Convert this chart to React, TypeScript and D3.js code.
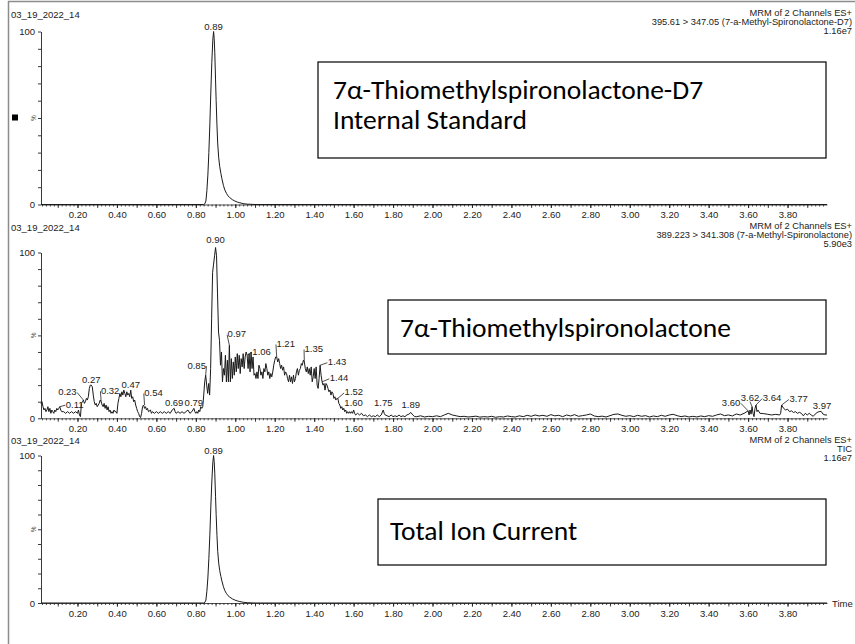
import React, { useEffect, useRef } from "react";
import * as d3 from "d3";

// ---- data (time in min, intensity in %) ----
const sampleName = "03_19_2022_14";

const headerLines = [
  ["MRM of 2 Channels ES+", "395.61 > 347.05 (7-a-Methyl-Spironolactone-D7)", "1.16e7"],
  ["MRM of 2 Channels ES+", "389.223 > 341.308 (7-a-Methyl-Spironolactone)", "5.90e3"],
  ["MRM of 2 Channels ES+", "TIC", "1.16e7"],
];

const boxTexts = [
  ["7α-Thiomethylspironolactone-D7", "Internal Standard"],
  ["7α-Thiomethylspironolactone"],
  ["Total Ion Current"],
];

const xTickValues = [0.2, 0.4, 0.6, 0.8, 1.0, 1.2, 1.4, 1.6, 1.8, 2.0, 2.2, 2.4, 2.6, 2.8, 3.0, 3.2, 3.4, 3.6, 3.8];
const yTickValues = [0, 10, 20, 30, 40, 50, 60, 70, 80, 90, 100];

// internal standard channel (D7)
const internalStdTrace: [number, number][] = [
  [0.015, 0], [0.84, 0], [0.846, 0.5], [0.851, 2], [0.856, 8], [0.861, 17], [0.866, 30], [0.871, 46],
  [0.876, 65], [0.881, 82], [0.886, 95], [0.89, 100], [0.893, 96], [0.896, 88], [0.9, 72], [0.903, 60],
  [0.907, 46], [0.911, 35], [0.916, 27], [0.921, 22], [0.927, 18], [0.932, 15], [0.94, 11], [0.947, 8.4],
  [0.955, 6.5], [0.963, 5], [0.972, 4], [0.985, 2.8], [0.998, 2], [1.01, 1.4], [1.023, 1], [1.04, 0.5],
  [1.06, 0.2], [1.1, 0], [4.0, 0],
];

// total ion current
const ticTrace: [number, number][] = [
  [0.015, 0], [0.84, 0], [0.846, 0.5], [0.851, 2], [0.856, 8], [0.861, 17], [0.866, 30], [0.871, 46],
  [0.876, 65], [0.881, 82], [0.886, 95], [0.89, 100], [0.893, 96], [0.896, 88], [0.9, 72], [0.903, 60],
  [0.907, 46], [0.911, 35], [0.916, 27], [0.921, 22], [0.927, 18], [0.932, 15], [0.94, 11], [0.947, 8.4],
  [0.955, 6.5], [0.963, 5], [0.972, 4], [0.985, 2.8], [0.998, 2], [1.01, 1.4], [1.023, 1], [1.04, 0.5],
  [1.06, 0.2], [1.1, 0], [4.0, 0],
];

// analyte channel, noisy
const analyteEarly: [number, number][] = [
  [0.015, 9], [0.02, 10], [0.025, 7], [0.03, 5], [0.035, 6], [0.04, 4], [0.045, 5], [0.05, 7], [0.055, 4],
  [0.06, 6], [0.065, 3], [0.07, 5], [0.075, 4], [0.08, 3], [0.085, 5], [0.09, 4], [0.095, 6], [0.1, 5],
  [0.105, 6], [0.11, 7], [0.115, 5], [0.12, 4], [0.13, 4], [0.14, 3], [0.15, 4], [0.16, 3], [0.17, 4],
  [0.18, 3], [0.19, 4], [0.2, 3], [0.205, 5], [0.21, 2], [0.215, 1], [0.22, 9], [0.225, 10], [0.23, 11],
  [0.235, 9], [0.24, 10], [0.245, 12], [0.25, 11], [0.255, 13], [0.26, 18], [0.265, 20], [0.27, 20],
  [0.275, 19], [0.28, 14], [0.285, 10], [0.29, 8], [0.295, 9], [0.3, 7], [0.305, 8], [0.31, 9], [0.315, 11],
  [0.32, 10], [0.325, 8], [0.33, 7], [0.335, 9], [0.34, 6], [0.345, 8], [0.35, 5], [0.355, 7], [0.36, 4],
  [0.365, 5], [0.37, 3], [0.375, 4], [0.38, 3], [0.385, 5], [0.39, 4], [0.395, 4], [0.4, 3], [0.405, 9],
  [0.41, 12], [0.415, 15], [0.42, 13], [0.425, 16], [0.43, 14], [0.435, 17], [0.44, 15], [0.445, 13],
  [0.45, 16], [0.455, 14], [0.46, 15], [0.465, 13], [0.47, 17], [0.475, 12], [0.48, 13], [0.485, 10],
  [0.49, 11], [0.495, 8], [0.5, 6], [0.505, 4], [0.51, 3], [0.515, 1], [0.52, 0.5], [0.525, 3], [0.53, 7],
  [0.535, 8], [0.54, 6], [0.545, 7], [0.55, 5], [0.555, 6], [0.56, 4], [0.57, 5], [0.575, 3], [0.58, 4],
  [0.59, 3], [0.6, 4], [0.61, 3], [0.62, 4], [0.63, 3], [0.64, 4], [0.65, 3], [0.66, 4], [0.67, 3],
  [0.68, 5], [0.69, 6], [0.695, 4], [0.7, 3], [0.71, 4], [0.72, 3], [0.73, 4], [0.74, 3], [0.75, 4],
  [0.76, 5], [0.77, 3], [0.78, 4], [0.79, 6], [0.795, 4], [0.8, 3], [0.805, 4], [0.81, 3], [0.815, 5],
  [0.82, 4], [0.825, 7], [0.83, 6], [0.835, 7],
];

const analytePeak: [number, number][] = [
  [0.84, 14], [0.845, 22], [0.85, 26], [0.855, 20], [0.86, 15], [0.865, 21], [0.87, 14], [0.875, 30],
  [0.88, 60], [0.885, 88], [0.89, 93], [0.895, 98], [0.9, 103], [0.905, 98], [0.91, 75], [0.915, 52],
  [0.92, 47], [0.925, 32], [0.93, 40], [0.935, 22], [0.94, 30], [0.945, 26], [0.95, 38], [0.955, 22],
  [0.96, 35], [0.965, 22], [0.97, 44], [0.975, 22], [0.98, 36], [0.985, 24], [0.99, 34], [0.995, 26],
  [1.0, 37], [1.005, 28], [1.01, 39], [1.015, 30], [1.02, 38], [1.025, 27], [1.03, 36], [1.035, 31],
  [1.04, 39], [1.045, 30], [1.05, 37], [1.055, 40], [1.06, 38], [1.065, 30], [1.07, 39], [1.075, 28],
  [1.08, 40], [1.085, 30], [1.09, 37], [1.095, 26], [1.1, 27], [1.105, 24], [1.11, 28], [1.115, 24],
  [1.12, 32], [1.125, 30], [1.13, 26], [1.135, 28], [1.14, 24], [1.145, 30], [1.15, 28], [1.155, 33],
  [1.16, 30], [1.165, 26], [1.17, 28], [1.175, 24], [1.18, 27], [1.185, 25], [1.19, 28], [1.195, 32],
  [1.2, 35], [1.205, 37], [1.21, 37], [1.215, 34], [1.22, 36], [1.225, 33], [1.23, 30], [1.235, 32],
  [1.24, 29], [1.245, 31], [1.25, 26], [1.255, 28], [1.26, 27], [1.265, 24], [1.27, 22], [1.275, 26],
  [1.28, 22], [1.285, 25], [1.29, 21], [1.295, 26], [1.3, 22], [1.305, 24], [1.31, 28], [1.315, 30],
  [1.32, 26], [1.325, 29], [1.33, 30], [1.335, 33], [1.34, 32], [1.345, 35], [1.35, 34], [1.355, 30],
  [1.36, 28], [1.365, 31], [1.37, 27], [1.375, 30], [1.38, 26], [1.385, 31], [1.39, 22], [1.395, 25],
  [1.4, 30], [1.405, 24], [1.41, 31], [1.415, 20], [1.42, 18], [1.425, 24], [1.43, 32], [1.435, 26],
  [1.44, 22], [1.445, 20], [1.45, 21], [1.455, 17], [1.46, 21], [1.465, 20], [1.47, 18], [1.475, 16],
  [1.48, 17], [1.485, 14], [1.49, 16], [1.495, 15], [1.5, 12], [1.505, 13], [1.51, 11], [1.515, 12],
  [1.52, 12], [1.525, 9], [1.53, 8], [1.535, 6], [1.54, 7], [1.545, 5], [1.55, 6], [1.555, 4], [1.56, 5],
  [1.565, 3], [1.57, 4], [1.575, 3], [1.58, 4], [1.585, 3], [1.59, 4], [1.595, 3], [1.6, 5], [1.605, 3],
  [1.61, 2], [1.62, 3], [1.63, 2], [1.64, 3], [1.65, 1.5], [1.66, 2], [1.67, 1], [1.68, 2], [1.69, 1],
  [1.7, 1.5], [1.71, 1], [1.72, 2], [1.73, 1], [1.74, 2], [1.75, 5], [1.755, 3], [1.76, 2], [1.77, 1.5],
  [1.78, 1], [1.79, 2], [1.8, 1], [1.81, 1.5], [1.82, 1], [1.83, 2], [1.84, 1], [1.85, 1.5], [1.86, 1],
  [1.87, 2], [1.88, 2.5], [1.89, 3.5], [1.9, 2], [1.91, 1],
];

const analyteLate: [number, number][] = [
  [1.92, 1], [1.94, 1.5], [1.96, 0.8], [1.98, 1.2], [2.0, 1], [2.02, 1.5], [2.04, 1], [2.06, 2], [2.08, 3],
  [2.1, 2], [2.12, 1.5], [2.14, 1], [2.16, 1.2], [2.18, 0.8], [2.2, 1], [2.22, 1.3], [2.24, 0.7], [2.26, 1],
  [2.28, 0.8], [2.3, 1.2], [2.32, 0.6], [2.34, 1], [2.36, 0.8], [2.38, 1.4], [2.4, 1], [2.42, 0.8],
  [2.44, 1.5], [2.46, 1], [2.48, 1.8], [2.5, 1.2], [2.52, 2], [2.54, 1.4], [2.56, 1.8], [2.58, 1.2],
  [2.6, 2.2], [2.62, 1.5], [2.64, 1.8], [2.66, 1], [2.68, 2], [2.7, 1.4], [2.72, 2.2], [2.74, 1.2],
  [2.76, 1.6], [2.78, 2], [2.8, 2.6], [2.82, 1.4], [2.84, 1], [2.86, 1.3], [2.88, 0.8], [2.9, 1.6],
  [2.92, 2.4], [2.94, 2.6], [2.96, 1.8], [2.98, 1.2], [3.0, 1.6], [3.02, 1], [3.04, 1.8], [3.06, 1.2],
  [3.08, 1.6], [3.1, 0.8], [3.12, 1.4], [3.14, 1], [3.16, 1.8], [3.18, 1.2], [3.2, 2], [3.22, 2.4],
  [3.24, 1.6], [3.26, 1], [3.28, 1.4], [3.3, 0.8], [3.32, 1.2], [3.34, 0.8], [3.36, 1.4], [3.38, 1],
  [3.4, 1.6], [3.42, 1.2], [3.44, 2], [3.46, 2.6], [3.48, 1.6], [3.5, 2], [3.52, 1.4], [3.54, 2.6],
  [3.56, 2], [3.58, 3], [3.6, 4.5], [3.605, 2], [3.61, 5], [3.615, 2.5], [3.62, 7], [3.625, 3], [3.63, 1],
  [3.635, 6], [3.64, 8], [3.645, 4], [3.65, 5], [3.66, 3], [3.68, 2.8], [3.7, 2.4], [3.72, 2], [3.74, 2.4],
  [3.76, 2], [3.765, 3], [3.77, 8], [3.78, 6], [3.79, 5], [3.8, 5.5], [3.81, 4], [3.82, 4.5], [3.83, 3.5],
  [3.84, 4], [3.85, 3], [3.86, 3.6], [3.87, 3], [3.88, 1.5], [3.89, 3], [3.9, 2], [3.91, 3], [3.92, 2],
  [3.93, 1.2], [3.94, 2.5], [3.95, 3.5], [3.96, 4], [3.97, 4.2], [3.98, 2.5], [3.99, 2], [4.0, 2],
];

// peak labels: retention time + labelled height
const internalStdPeaks = [{ t: 0.89, v: 100 }];
const ticPeaks = [{ t: 0.89, v: 100 }];
const analytePeaks = [
  { t: 0.11, v: 7 }, { t: 0.23, v: 11 }, { t: 0.27, v: 20 }, { t: 0.32, v: 10 }, { t: 0.47, v: 17 },
  { t: 0.54, v: 8 }, { t: 0.69, v: 6 }, { t: 0.79, v: 6 }, { t: 0.85, v: 26 }, { t: 0.9, v: 103 },
  { t: 0.97, v: 44 }, { t: 1.06, v: 38 }, { t: 1.21, v: 37 }, { t: 1.35, v: 34 }, { t: 1.43, v: 32 },
  { t: 1.44, v: 22 }, { t: 1.52, v: 12 }, { t: 1.6, v: 5 }, { t: 1.75, v: 5 }, { t: 1.89, v: 3.5 },
  { t: 3.6, v: 4.5 }, { t: 3.62, v: 7 }, { t: 3.64, v: 8 }, { t: 3.77, v: 8 }, { t: 3.97, v: 4.2 },
];

// ---- layout (px) ----
const labelShift1 = [[0, -2]];
const labelShift3 = [[0, -2]];
const labelShift2 = [
  [15, 1], [-16, -5], [0, -2.5], [9, -8], [0, -2.5], [9, -9], [0, -2.5], [0, -2.5], [-9, -6.5], [0, -5],
  [7.5, -8], [14.5, -0.5], [9, -10], [9.5, -10], [17, 0], [17, -0.5], [16, -3], [0, -4], [0, -4], [0, -4],
  [-17, -5], [-2, -6], [16, -4], [17, -3], [1, -2],
];

const panels = [
  { trace: [internalStdTrace], peaks: internalStdPeaks, shifts: labelShift1, dateY: 18.4, headY: 15.5, y100: 31.5, y0: 204.5,
    box: [318, 62, 508, 96], textX: 333, textY: [99, 129], time: false },
  { trace: [analyteEarly, analytePeak, analyteLate], peaks: analytePeaks, shifts: labelShift2, dateY: 231, headY: 229,
    y100: 252.5, y0: 418.3, box: [388, 300, 438, 54], textX: 400, textY: [337], time: false },
  { trace: [ticTrace], peaks: ticPeaks, shifts: labelShift3, dateY: 444.4, headY: 443, y100: 455.5, y0: 603,
    box: [378, 499, 448, 66], textX: 390, textY: [540], time: true },
];

const SMALL = "'Liberation Sans', Arial, sans-serif";
const BIG = "Carlito, Lato, 'Open Sans', sans-serif";

const App = () => {
  const ref = useRef<SVGSVGElement>(null);

  useEffect(() => {
    const svg = d3.select(ref.current);
    svg.selectAll("*").remove();

    const x = d3.scaleLinear().domain([0.015, 4.0]).range([41, 827]);

    // outer frame (left + top)
    svg.append("line").attr("x1", 8.5).attr("x2", 8.5).attr("y1", 1).attr("y2", 644)
      .attr("stroke", "#8c8c8c").attr("stroke-width", 1.5);
    svg.append("line").attr("x1", 8).attr("x2", 855).attr("y1", 1.5).attr("y2", 1.5)
      .attr("stroke", "#8c8c8c").attr("stroke-width", 1.5);
    svg.append("rect").attr("x", 12).attr("y", 114.5).attr("width", 6).attr("height", 6).attr("fill", "#000");

    panels.forEach((p, i) => {
      const y = d3.scaleLinear().domain([0, 100]).range([p.y0, p.y100]);
      const g = svg.append("g");

      g.append("text").attr("x", 11).attr("y", p.dateY)
        .attr("font-family", SMALL).attr("font-size", 9.5).attr("fill", "#222").text(sampleName);
      headerLines[i].forEach((line, j) => {
        g.append("text").attr("x", 852).attr("y", p.headY + j * 9).attr("text-anchor", "end")
          .attr("font-family", SMALL).attr("font-size", 9.3).attr("fill", "#222").text(line);
      });

      // y axis
      const yAxis = d3.axisLeft(y).tickValues(yTickValues).tickSize(3).tickSizeOuter(0).tickPadding(3)
        .tickFormat(d => (d === 0 || d === 100 ? String(d) : ""));
      const ya = g.append("g").attr("transform", "translate(41,0)").call(yAxis);
      ya.selectAll("text").attr("font-family", SMALL).attr("font-size", 9.5).attr("fill", "#222");
      ya.selectAll("line,path").attr("stroke", "#222").attr("stroke-width", 0.9);
      g.append("text").attr("transform", `translate(36,${y(50)}) rotate(-90)`).attr("text-anchor", "middle")
        .attr("font-family", SMALL).attr("font-size", 6.5).attr("fill", "#333").text("%");

      // x axis: minor + labelled ticks
      const minor = d3.axisBottom(x).tickValues(d3.range(0.02, 4.0, 0.02)).tickSize(2).tickSizeOuter(0).tickFormat(() => "");
      const xm = g.append("g").attr("transform", `translate(0,${p.y0})`).call(minor);
      const mid = d3.axisBottom(x).tickValues(d3.range(0.1, 4.0, 0.1)).tickSize(3.5).tickSizeOuter(0).tickFormat(() => "");
      const xd = g.append("g").attr("transform", `translate(0,${p.y0})`).call(mid);
      xd.select(".domain").remove();
      const major = d3.axisBottom(x).tickValues(xTickValues).tickSize(3.5).tickSizeOuter(0).tickPadding(3.5)
        .tickFormat(d3.format(".2f") as any);
      const xa = g.append("g").attr("transform", `translate(0,${p.y0})`).call(major);
      xa.select(".domain").remove();
      [xm, xd, xa].forEach(a => a.selectAll("line,path").attr("stroke", "#222").attr("stroke-width", 0.8));
      xa.selectAll("text").attr("font-family", SMALL).attr("font-size", 9.5).attr("fill", "#222");

      if (p.time) {
        g.append("text").attr("x", 832).attr("y", p.y0 + 3.5)
          .attr("font-family", SMALL).attr("font-size", 9.5).attr("fill", "#222").text("Time");
      }

      // trace
      const line = d3.line<[number, number]>().x(d => x(d[0])).y(d => y(d[1]));
      const pts = p.trace.flat() as [number, number][];
      g.append("path").datum(pts).attr("d", line).attr("fill", "none")
        .attr("stroke", "#1a1a1a").attr("stroke-width", 1).attr("stroke-linejoin", "round");

      // peak labels
      p.peaks.forEach((pk, k) => {
        const [dx, dy] = p.shifts[k];
        const px = x(pk.t), py = y(pk.v);
        const cx = px + dx, by = py + dy;
        const txt = g.append("text").attr("x", cx).attr("y", by).attr("text-anchor", "middle")
          .attr("font-family", SMALL).attr("font-size", 9.5).attr("fill", "#222").text(pk.t.toFixed(2));
        const w = (txt.node() as SVGTextElement).getComputedTextLength();
        if (Math.hypot(dx, dy) > 5) {
          let ex = cx, ey = by + 1;
          if (dx > 5) { ex = cx - w / 2 - 0.5; ey = by - 2.5; }
          else if (dx < -5) { ex = cx + w / 2 + 0.5; ey = by - 2.5; }
          g.append("line").attr("x1", px).attr("y1", py).attr("x2", ex).attr("y2", ey)
            .attr("stroke", "#222").attr("stroke-width", 0.8);
        }
      });

      // annotation box
      const [bx, by, bw, bh] = p.box;
      g.append("rect").attr("x", bx).attr("y", by).attr("width", bw).attr("height", bh)
        .attr("fill", "#fff").attr("stroke", "#000").attr("stroke-width", 1.2);
      boxTexts[i].forEach((t, j) => {
        g.append("text").attr("x", p.textX).attr("y", p.textY[j])
          .attr("font-family", BIG).attr("font-size", 27.5).attr("fill", "#000").text(t);
      });
    });
  }, []);

  return <svg ref={ref} width={855} height={644} style={{ position: "absolute", left: 0, top: 0, background: "#fff" }} />;
};

export default App;
